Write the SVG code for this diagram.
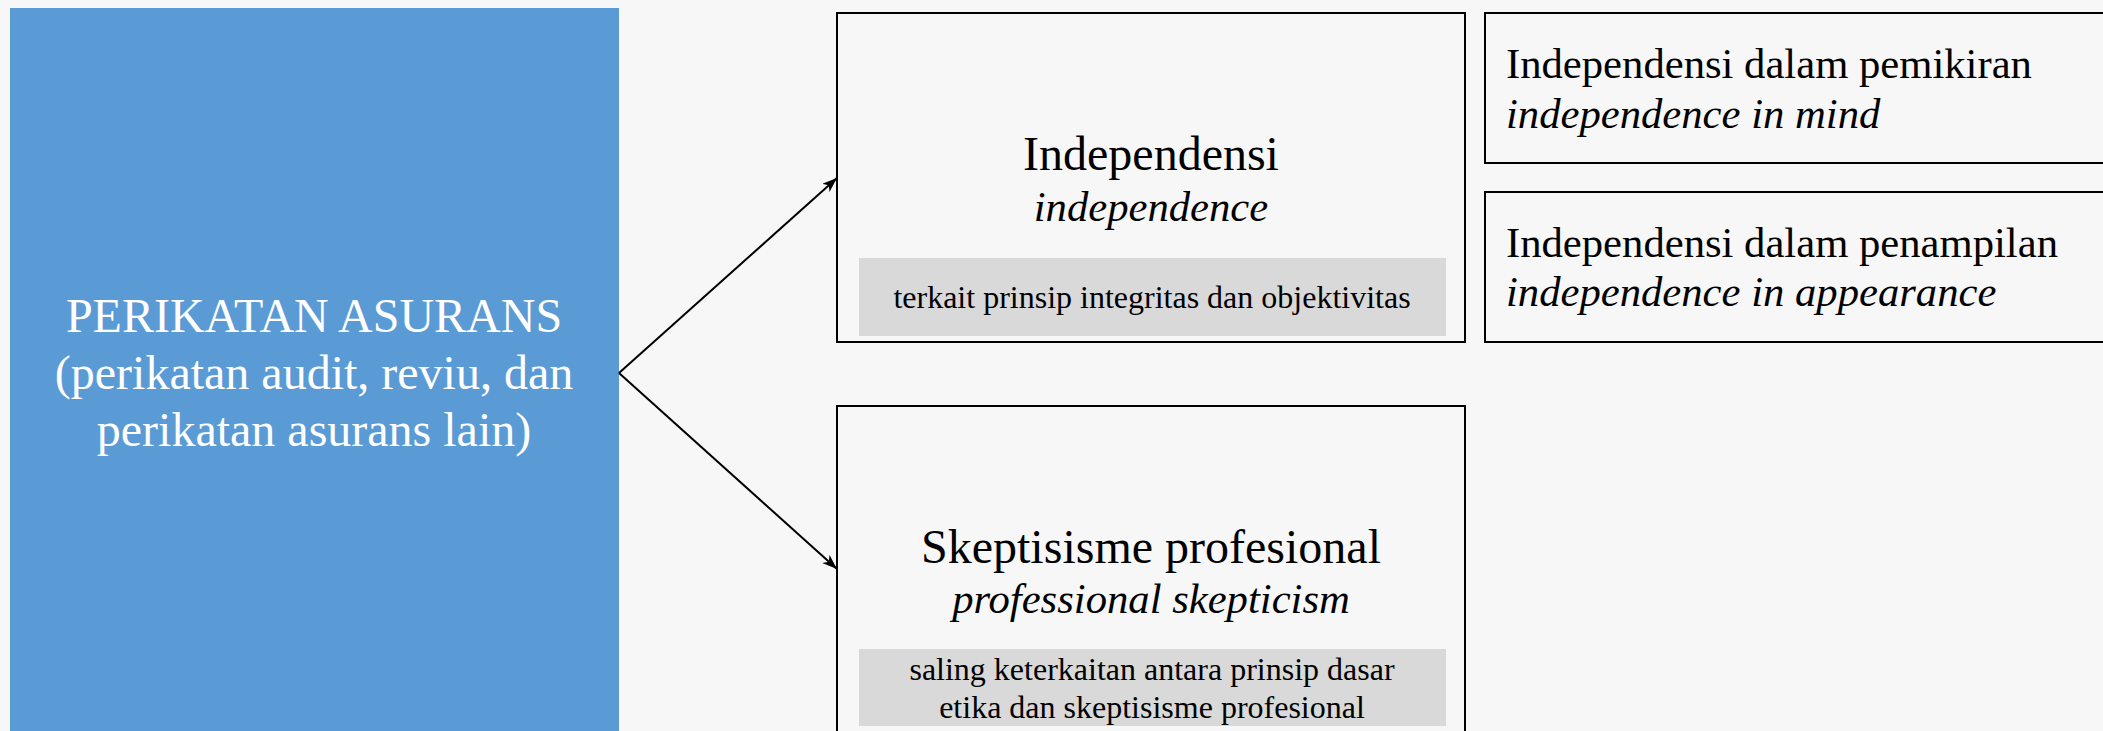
<svg xmlns="http://www.w3.org/2000/svg" width="2103" height="731" viewBox="0 0 2103 731">
<style>
.box{fill:#F7F7F7;stroke:#000;stroke-width:2}
.band{fill:#D9D9D9}
.t{font-family:"Liberation Serif","Times New Roman",serif;fill:#000}
.title{font-size:48px;text-anchor:middle}
.subtitle{font-size:42.67px;text-anchor:middle;font-style:italic}
.it{font-style:italic}
.small{font-size:32px;text-anchor:middle}
.side{font-size:42.67px}
.main{font-size:48px;text-anchor:middle;fill:#FFFFFF}
.conn{stroke:#000;stroke-width:2;fill:none}
</style>
<defs>
<marker id="ah" markerUnits="userSpaceOnUse" markerWidth="16" markerHeight="12" refX="15" refY="5.5" orient="auto">
<path d="M0,0 L15,5.5 L0,11 L4,5.5 z" fill="#000"/>
</marker>
</defs>
<rect x="0" y="0" width="2103" height="731" fill="#F7F7F7"/>
<g id="perikatan">
<rect x="10" y="8" width="609" height="740" fill="#5B9BD5"/>
<text class="t main" x="314" y="332">PERIKATAN ASURANS</text>
<text class="t main" x="314" y="389">(perikatan audit, reviu, dan</text>
<text class="t main" x="314" y="446">perikatan asurans lain)</text>
</g>
<g id="independensi">
<rect class="box" x="837" y="13" width="628" height="329"/>
<text class="t title" x="1151" y="170">Independensi</text>
<text class="t subtitle" x="1151" y="221">independence</text>
<rect class="band" x="859" y="258" width="587" height="78"/>
<text class="t small" x="1152" y="308">terkait prinsip integritas dan objektivitas</text>
</g>
<g id="skeptisisme">
<rect class="box" x="837" y="406" width="628" height="340"/>
<text class="t title" x="1151" y="563">Skeptisisme profesional</text>
<text class="t subtitle" x="1151" y="613">professional skepticism</text>
<rect class="band" x="859" y="649" width="587" height="77"/>
<text class="t small" x="1152" y="680">saling keterkaitan antara prinsip dasar</text>
<text class="t small" x="1152" y="718">etika dan skeptisisme profesional</text>
</g>
<g id="mind">
<rect class="box" x="1485" y="13" width="640" height="150"/>
<text class="t side" x="1506" y="78">Independensi dalam pemikiran</text>
<text class="t side it" x="1506" y="128">independence in mind</text>
</g>
<g id="appearance">
<rect class="box" x="1485" y="192" width="640" height="150"/>
<text class="t side" x="1506" y="257">Independensi dalam penampilan</text>
<text class="t side it" x="1506" y="306">independence in appearance</text>
</g>
<g id="connectors">
<line class="conn" x1="619" y1="373" x2="837" y2="178" marker-end="url(#ah)"/>
<line class="conn" x1="619" y1="373" x2="837" y2="569" marker-end="url(#ah)"/>
</g>
</svg>
